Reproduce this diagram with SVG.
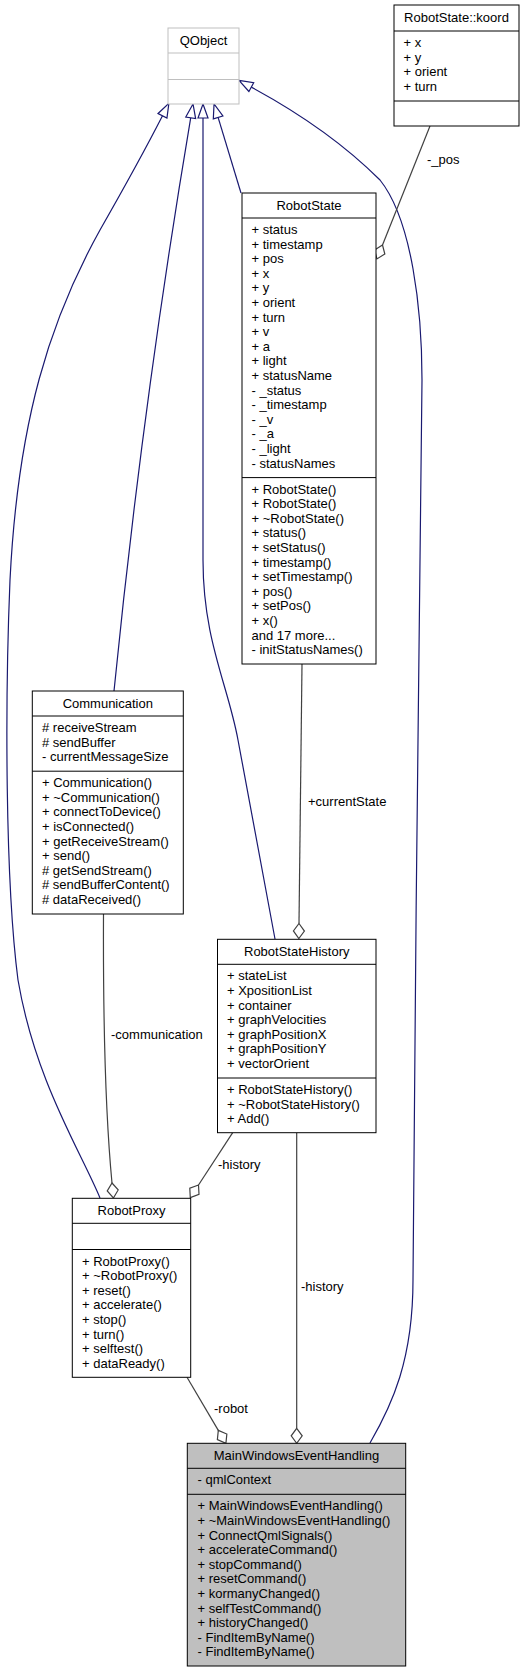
<svg xmlns="http://www.w3.org/2000/svg" width="528" height="1672" viewBox="0 0 528 1672">
<style>
text{font-family:"Liberation Sans",Arial,Helvetica,sans-serif;font-size:13px;fill:#000}
.hd{text-anchor:middle}
.box{fill:#fff;stroke:#000;stroke-width:1}
.grey{fill:#fff;stroke:#bfbfbf;stroke-width:1}
.cur{fill:#bfbfbf;stroke:#000;stroke-width:1}
.sep{stroke:#000;stroke-width:1}
.sepg{stroke:#bfbfbf;stroke-width:1}
.inh{fill:none;stroke:#191970;stroke-width:1.2;marker-end:url(#tri)}
.agg{fill:none;stroke:#404040;stroke-width:1.2;marker-end:url(#dia)}
</style>
<defs>
<marker id="tri" markerUnits="userSpaceOnUse" markerWidth="16" markerHeight="12" refX="0" refY="6" orient="auto" overflow="visible">
<path d="M0,1 L14,6 L0,11 Z" fill="#fff" stroke="#191970" stroke-width="1.2"/>
</marker>
<marker id="dia" markerUnits="userSpaceOnUse" markerWidth="16" markerHeight="12" refX="0" refY="6" orient="auto" overflow="visible">
<path d="M0,6 L7.5,0.5 L15,6 L7.5,11.5 Z" fill="#fff" stroke="#404040" stroke-width="1.2"/>
</marker>
</defs>

<g id="connectors">
<path class="inh" d="M100,1198 C80,1150 35,1080 18,980 C5,880 5,700 10,580 C18,420 50,320 100,230 C120,195 145,150 162.5,115.8"/>
<path class="inh" d="M114,691 C135,480 160,300 190.7,117.8"/>
<path class="inh" d="M275,939 L238,740 C228,685 203,640 203,560 L203,118"/>
<path class="inh" d="M241,193 L218.1,117.4"/>
<path class="inh" d="M370,1443 C392,1405 413,1360 413,1280 C413,1000 422,600 422,380 C422,310 412,220 380,180 C340,140 290,108 251.3,87.1"/>
<path class="agg" d="M430,126 L382.5,245"/>
<path class="agg" d="M302,664 L299,923.5"/>
<path class="agg" d="M103.5,914 C103,1030 106,1120 112,1183"/>
<path class="agg" d="M232.7,1132.7 L198.5,1185"/>
<path class="agg" d="M296.7,1132.7 L296.7,1428.3"/>
<path class="agg" d="M187,1377.3 L218.3,1430.4"/>
<text x="427" y="164">-_pos</text>
<text x="308" y="806">+currentState</text>
<text x="111" y="1039">-communication</text>
<text x="218" y="1169">-history</text>
<text x="301" y="1291">-history</text>
<text x="214" y="1413">-robot</text>
</g>

<g id="QObject">
<rect class="grey" x="168" y="28" width="71" height="76"/>
<line class="sepg" x1="168" y1="53" x2="239" y2="53"/>
<line class="sepg" x1="168" y1="79.5" x2="239" y2="79.5"/>
<text class="hd" x="203.5" y="45">QObject</text>
</g>

<g id="RobotState_koord">
<rect class="box" x="394" y="5" width="125" height="121"/>
<line class="sep" x1="394" y1="31" x2="519" y2="31"/>
<line class="sep" x1="394" y1="101" x2="519" y2="101"/>
<text class="hd" x="456.5" y="22">RobotState::koord</text>
<text x="403.5" y="47"><tspan x="403.5">+ x</tspan><tspan x="403.5" dy="14.6">+ y</tspan><tspan x="403.5" dy="14.6">+ orient</tspan><tspan x="403.5" dy="14.6">+ turn</tspan></text>
</g>

<g id="RobotState">
<rect class="box" x="242" y="193" width="134" height="471"/>
<line class="sep" x1="242" y1="218" x2="376" y2="218"/>
<line class="sep" x1="242" y1="477.6" x2="376" y2="477.6"/>
<text class="hd" x="309" y="210">RobotState</text>
<text x="251.5" y="234"><tspan x="251.5">+ status</tspan><tspan x="251.5" dy="14.6">+ timestamp</tspan><tspan x="251.5" dy="14.6">+ pos</tspan><tspan x="251.5" dy="14.6">+ x</tspan><tspan x="251.5" dy="14.6">+ y</tspan><tspan x="251.5" dy="14.6">+ orient</tspan><tspan x="251.5" dy="14.6">+ turn</tspan><tspan x="251.5" dy="14.6">+ v</tspan><tspan x="251.5" dy="14.6">+ a</tspan><tspan x="251.5" dy="14.6">+ light</tspan><tspan x="251.5" dy="14.6">+ statusName</tspan><tspan x="251.5" dy="14.6">- _status</tspan><tspan x="251.5" dy="14.6">- _timestamp</tspan><tspan x="251.5" dy="14.6">- _v</tspan><tspan x="251.5" dy="14.6">- _a</tspan><tspan x="251.5" dy="14.6">- _light</tspan><tspan x="251.5" dy="14.6">- statusNames</tspan></text>
<text x="251.5" y="493.6"><tspan x="251.5">+ RobotState()</tspan><tspan x="251.5" dy="14.6">+ RobotState()</tspan><tspan x="251.5" dy="14.6">+ ~RobotState()</tspan><tspan x="251.5" dy="14.6">+ status()</tspan><tspan x="251.5" dy="14.6">+ setStatus()</tspan><tspan x="251.5" dy="14.6">+ timestamp()</tspan><tspan x="251.5" dy="14.6">+ setTimestamp()</tspan><tspan x="251.5" dy="14.6">+ pos()</tspan><tspan x="251.5" dy="14.6">+ setPos()</tspan><tspan x="251.5" dy="14.6">+ x()</tspan><tspan x="251.5" dy="14.6">and 17 more...</tspan><tspan x="251.5" dy="14.6">- initStatusNames()</tspan></text>
</g>

<g id="Communication">
<rect class="box" x="32.3" y="691" width="151" height="223"/>
<line class="sep" x1="32.3" y1="716" x2="183.3" y2="716"/>
<line class="sep" x1="32.3" y1="771.2" x2="183.3" y2="771.2"/>
<text class="hd" x="107.8" y="708">Communication</text>
<text x="42" y="732"><tspan x="42"># receiveStream</tspan><tspan x="42" dy="14.6"># sendBuffer</tspan><tspan x="42" dy="14.6">- currentMessageSize</tspan></text>
<text x="42" y="787.2"><tspan x="42">+ Communication()</tspan><tspan x="42" dy="14.6">+ ~Communication()</tspan><tspan x="42" dy="14.6">+ connectToDevice()</tspan><tspan x="42" dy="14.6">+ isConnected()</tspan><tspan x="42" dy="14.6">+ getReceiveStream()</tspan><tspan x="42" dy="14.6">+ send()</tspan><tspan x="42" dy="14.6"># getSendStream()</tspan><tspan x="42" dy="14.6"># sendBufferContent()</tspan><tspan x="42" dy="14.6"># dataReceived()</tspan></text>
</g>

<g id="RobotStateHistory">
<rect class="box" x="217.5" y="939.3" width="158.5" height="193.4"/>
<line class="sep" x1="217.5" y1="964.3" x2="376" y2="964.3"/>
<line class="sep" x1="217.5" y1="1078" x2="376" y2="1078"/>
<text class="hd" x="296.75" y="956.3">RobotStateHistory</text>
<text x="227" y="980.3"><tspan x="227">+ stateList</tspan><tspan x="227" dy="14.6">+ XpositionList</tspan><tspan x="227" dy="14.6">+ container</tspan><tspan x="227" dy="14.6">+ graphVelocities</tspan><tspan x="227" dy="14.6">+ graphPositionX</tspan><tspan x="227" dy="14.6">+ graphPositionY</tspan><tspan x="227" dy="14.6">+ vectorOrient</tspan></text>
<text x="227" y="1094"><tspan x="227">+ RobotStateHistory()</tspan><tspan x="227" dy="14.6">+ ~RobotStateHistory()</tspan><tspan x="227" dy="14.6">+ Add()</tspan></text>
</g>

<g id="RobotProxy">
<rect class="box" x="72.3" y="1198.3" width="118.4" height="179"/>
<line class="sep" x1="72.3" y1="1223.3" x2="190.7" y2="1223.3"/>
<line class="sep" x1="72.3" y1="1249.5" x2="190.7" y2="1249.5"/>
<text class="hd" x="131.5" y="1215.3">RobotProxy</text>
<text x="82" y="1265.5"><tspan x="82">+ RobotProxy()</tspan><tspan x="82" dy="14.6">+ ~RobotProxy()</tspan><tspan x="82" dy="14.6">+ reset()</tspan><tspan x="82" dy="14.6">+ accelerate()</tspan><tspan x="82" dy="14.6">+ stop()</tspan><tspan x="82" dy="14.6">+ turn()</tspan><tspan x="82" dy="14.6">+ selftest()</tspan><tspan x="82" dy="14.6">+ dataReady()</tspan></text>
</g>

<g id="MainWindowsEventHandling">
<rect class="cur" x="187.3" y="1443.3" width="218.4" height="222.7"/>
<line class="sep" x1="187.3" y1="1468.3" x2="405.7" y2="1468.3"/>
<line class="sep" x1="187.3" y1="1494.3" x2="405.7" y2="1494.3"/>
<text class="hd" x="296.5" y="1460.3">MainWindowsEventHandling</text>
<text x="197.5" y="1484.3">- qmlContext</text>
<text x="197.5" y="1510.3"><tspan x="197.5">+ MainWindowsEventHandling()</tspan><tspan x="197.5" dy="14.6">+ ~MainWindowsEventHandling()</tspan><tspan x="197.5" dy="14.6">+ ConnectQmlSignals()</tspan><tspan x="197.5" dy="14.6">+ accelerateCommand()</tspan><tspan x="197.5" dy="14.6">+ stopCommand()</tspan><tspan x="197.5" dy="14.6">+ resetCommand()</tspan><tspan x="197.5" dy="14.6">+ kormanyChanged()</tspan><tspan x="197.5" dy="14.6">+ selfTestCommand()</tspan><tspan x="197.5" dy="14.6">+ historyChanged()</tspan><tspan x="197.5" dy="14.6">- FindItemByName()</tspan><tspan x="197.5" dy="14.6">- FindItemByName()</tspan></text>
</g>
</svg>
